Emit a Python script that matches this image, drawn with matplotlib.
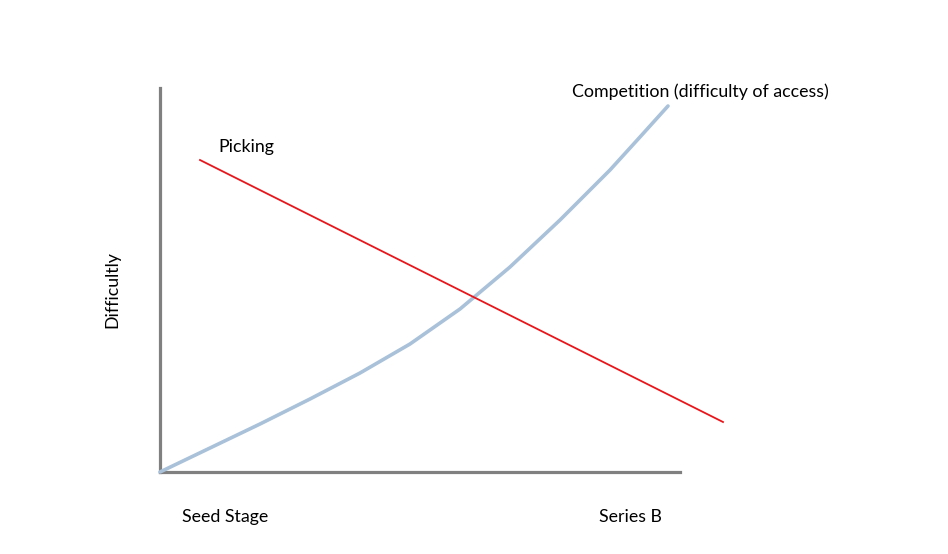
import matplotlib
matplotlib.use("Agg")
import matplotlib.pyplot as plt

plt.rcParams['font.family'] = ['Lato', 'DejaVu Sans']

# Data (arbitrary units, x: stage progression, y: difficulty)
competition_x = [0, 50, 100, 150, 200, 250, 300, 350, 400, 450, 480, 508]
competition_y = [0, 24, 48, 73, 99, 128, 163, 205, 252, 302, 335, 366]
picking_x = [40, 563]
picking_y = [312, 50]
x_labels = ["Seed Stage", "Series B"]
y_label = "Difficultly"
series_names = ["Picking", "Competition (difficulty of access)"]

W, H = 948, 554
fig = plt.figure(figsize=(W / 100, H / 100), dpi=100)
ax = fig.add_axes([160 / W, (H - 472) / H, 520 / W, 384 / H])
ax.set_xlim(0, 520)
ax.set_ylim(0, 384)

ax.plot(competition_x, competition_y, color="#a9c1d9", lw=2.6, solid_capstyle="round",
        solid_joinstyle="round", clip_on=False, zorder=3)
ax.plot(picking_x, picking_y, color="#e8161b", lw=1.3, clip_on=False, zorder=4)

for s in ["top", "right"]:
    ax.spines[s].set_visible(False)
for s in ["left", "bottom"]:
    ax.spines[s].set_color("#808080")
    ax.spines[s].set_linewidth(2.3)
ax.set_xticks([])
ax.set_yticks([])

fs = 12.8
ax.text(58, 325, series_names[0], fontsize=fs, ha="left", va="center", clip_on=False)
ax.text(412, 380, series_names[1], fontsize=fs, ha="left", va="center", clip_on=False)
ax.text(65, -45, x_labels[0], fontsize=fs, ha="center", va="center", clip_on=False)
ax.text(470, -45, x_labels[1], fontsize=fs, ha="center", va="center", clip_on=False)
ax.text(-48, 182, y_label, fontsize=fs, ha="center", va="center", rotation=90, clip_on=False)

fig.savefig("out.png", dpi=100, facecolor="white")
